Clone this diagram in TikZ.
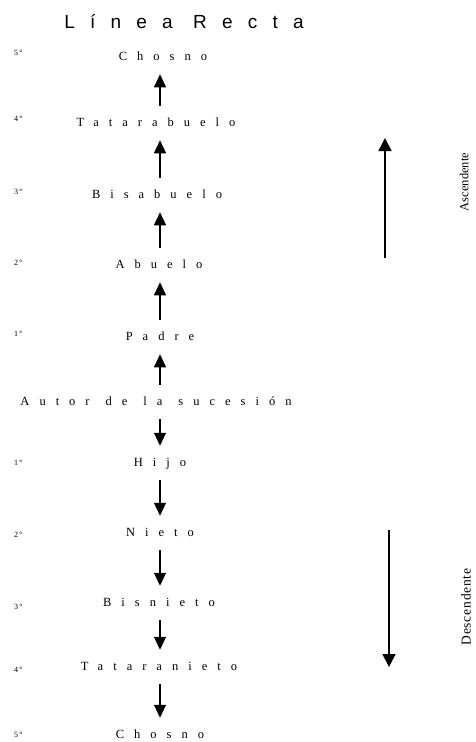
\documentclass[tikz,border=0pt]{standalone}
\usepackage{fontspec}
\setmainfont{Liberation Serif}
\newfontfamily\titlefont[LetterSpace=80]{Liberation Sans}
\newfontfamily\spacedfont[LetterSpace=80]{Liberation Serif}
\newfontfamily\sidefont{Liberation Serif}
\newfontfamily\widesidefont[LetterSpace=6]{Liberation Serif}
\usetikzlibrary{arrows.meta}
\newcommand{\wsp}{\kern 16bp\relax}
\begin{document}
\begin{tikzpicture}[x=1bp,y=-1bp,
  kin/.style={font=\fontsize{12.5bp}{14bp}\spacedfont, inner sep=0pt, text height=8.5bp, text depth=2bp, outer ysep=12bp},
  ord/.style={font=\fontsize{8bp}{9bp}\sidefont, inner sep=0pt, anchor=west},
  arr/.style={line width=1.1bp, -{Triangle[width=12bp,length=13bp]}},
  bigarr/.style={line width=1.5bp, -{Triangle[width=13bp,length=13bp]}},
  sidelabel/.style={rotate=90, inner sep=0pt}
]
\useasboundingbox (0,0) rectangle (476,742);
\node[font=\fontsize{19bp}{21bp}\titlefont, inner sep=0pt] (title) at (184,22) {Línea Recta};

\node[kin] (c5) at (163,57) {Chosno};
\node[kin] (t4) at (156,123) {Tatarabuelo};
\node[kin] (b3) at (157,195) {Bisabuelo};
\node[kin] (a2) at (159,265) {Abuelo};
\node[kin] (p1) at (160,337) {Padre};
\node[kin] (au) at (156,402) {Autor\wsp{}de\wsp{}la\wsp{}sucesión};
\node[kin] (h1) at (160,463) {Hijo};
\node[kin] (n2) at (160,533) {Nieto};
\node[kin] (bn3) at (159,603) {Bisnieto};
\node[kin] (tn4) at (159,667) {Tataranieto};
\node[kin] (cd5) at (160,735) {Chosno};

\node[ord] (o5a) at (14,53) {5\,º};
\node[ord] (o4a) at (14,119) {4\,º};
\node[ord] (o3a) at (14,192) {3\,º};
\node[ord] (o2a) at (14,263) {2\,º};
\node[ord] (o1a) at (14,334) {1\,º};
\node[ord] (o1d) at (14,463) {1\,º};
\node[ord] (o2d) at (14,535) {2\,º};
\node[ord] (o3d) at (14,607) {3\,º};
\node[ord] (o4d) at (14,670) {4\,º};
\node[ord] (o5d) at (14,735) {5\,º};

\draw[arr] (t4.north -| 160,0) -- (c5.south -| 160,0);
\draw[arr] (b3.north -| 160,0) -- (t4.south -| 160,0);
\draw[arr] (a2.north -| 160,0) -- (b3.south -| 160,0);
\draw[arr] (p1.north -| 160,0) -- (a2.south -| 160,0);
\draw[arr] (au.north -| 160,0) -- (p1.south -| 160,0);
\draw[arr] (au.south -| 160,0) -- (h1.north -| 160,0);
\draw[arr] (h1.south -| 160,0) -- (n2.north -| 160,0);
\draw[arr] (n2.south -| 160,0) -- (bn3.north -| 160,0);
\draw[arr] (bn3.south -| 160,0) -- (tn4.north -| 160,0);
\draw[arr] (tn4.south -| 160,0) -- (cd5.north -| 160,0);

\coordinate (ascA) at (385,258);
\coordinate (ascB) at (385,138);
\draw[bigarr] (ascA) -- (ascB);
\node[sidelabel, font=\fontsize{12.5bp}{14bp}\sidefont] (asc) at (464,182) {Ascendente};

\coordinate (desA) at (389,530);
\coordinate (desB) at (389,667);
\draw[bigarr] (desA) -- (desB);
\node[sidelabel, font=\fontsize{13.5bp}{15bp}\widesidefont] (des) at (466,607) {Descendente};
\end{tikzpicture}
\end{document}
